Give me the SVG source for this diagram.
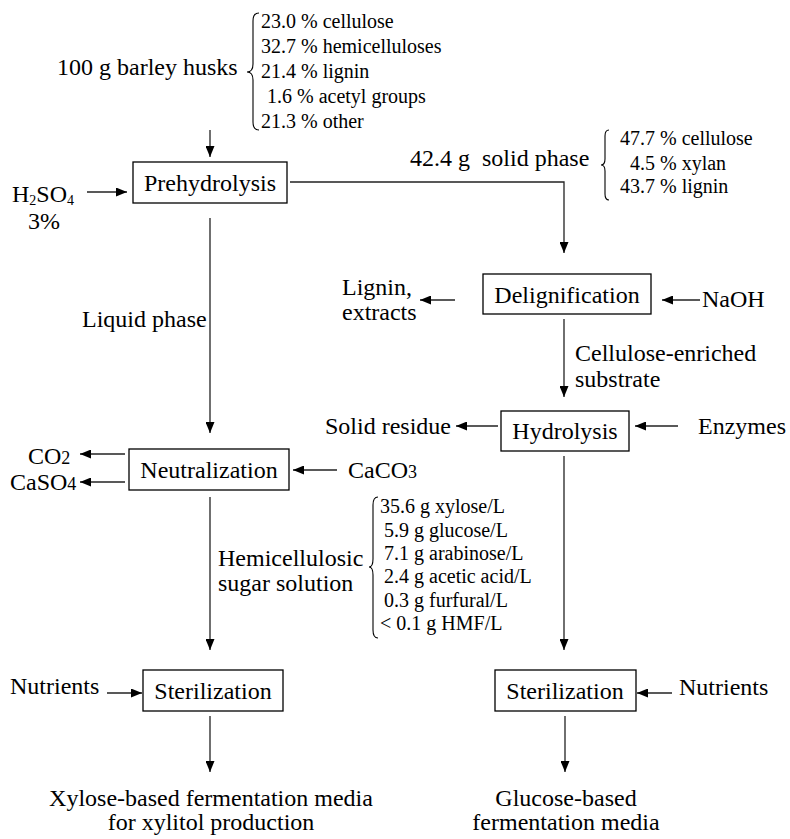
<svg xmlns="http://www.w3.org/2000/svg" width="790" height="839" viewBox="0 0 790 839">
<style>
text{font-family:"Liberation Serif","Times New Roman",serif;fill:#000}
.m{font-size:24px}
.s{font-size:20px}
.c{text-anchor:middle}
.box{fill:#fff;stroke:#000;stroke-width:1.3}
.ln{fill:none;stroke:#222;stroke-width:1.3}
.br{fill:none;stroke:#000;stroke-width:1.1}
</style>
<defs>
<marker id="ah" markerUnits="userSpaceOnUse" markerWidth="12" markerHeight="9" refX="11" refY="4.5" orient="auto">
<path d="M0,0 L11,4.5 L0,9 z" fill="#000"/>
</marker>
</defs>
<rect width="790" height="839" fill="#fff"/>
<g id="connectors" class="ln" marker-end="url(#ah)">
<path d="M210,130 V157"/>
<path d="M87,192 H127"/>
<path d="M290,182 H564 V253"/>
<path d="M210,218 V433"/>
<path d="M455,300 H420"/>
<path d="M700,300 H662"/>
<path d="M564,319 V397"/>
<path d="M498,426 H456"/>
<path d="M678,426 H635"/>
<path d="M564,456 V650"/>
<path d="M125,454 H80"/>
<path d="M125,482 H80"/>
<path d="M337,470 H293"/>
<path d="M210,497 V650"/>
<path d="M107,693 H142"/>
<path d="M672,693 H637"/>
<path d="M210,716 V772"/>
<path d="M565,716 V772"/>
</g>
<g id="barley">
<text class="m" x="57" y="75">100 g barley husks</text>
<path class="br" d="M259,13 Q253,13 253,21 L253,64 Q253,72 247,72 Q253,72 253,80 L253,122 Q253,130 259,130"/>
<text class="s" x="261" y="28">23.0 % cellulose</text>
<text class="s" x="261" y="53">32.7 % hemicelluloses</text>
<text class="s" x="261" y="78">21.4 % lignin</text>
<text class="s" x="267" y="103">1.6 % acetyl groups</text>
<text class="s" x="261" y="128">21.3 % other</text>
</g>
<g id="h2so4">
<text class="m" x="12" y="202">H<tspan font-size="14" dy="3">2</tspan><tspan dy="-3">SO</tspan><tspan font-size="14" dy="3">4</tspan></text>
<text class="m" x="28" y="229">3%</text>
</g>
<g id="prehydrolysis">
<rect class="box" x="133" y="162" width="154" height="41"/>
<text class="m c" x="210" y="191">Prehydrolysis</text>
</g>
<g id="solidphase">
<text class="m" x="410" y="166" xml:space="preserve">42.4 g  solid phase</text>
<path class="br" d="M609,130 Q605,130 605,136 L605,159 Q605,165 601,165 Q605,165 605,171 L605,194 Q605,200 609,200"/>
<text class="s" x="620" y="145">47.7 % cellulose</text>
<text class="s" x="630" y="170">4.5 % xylan</text>
<text class="s" x="620" y="193">43.7 % lignin</text>
</g>
<g id="delignification">
<rect class="box" x="483" y="274" width="168" height="40"/>
<text class="m c" x="567" y="303">Delignification</text>
</g>
<g id="lignin">
<text class="m" x="342" y="295">Lignin,</text>
<text class="m" x="342" y="320">extracts</text>
</g>
<g id="naoh"><text class="m" x="702" y="307">NaOH</text></g>
<g id="liquid"><text class="m" x="82" y="327">Liquid phase</text></g>
<g id="substrate">
<text class="m" x="575" y="361">Cellulose-enriched</text>
<text class="m" x="575" y="387">substrate</text>
</g>
<g id="hydrolysis">
<rect class="box" x="501" y="411" width="128" height="40"/>
<text class="m c" x="565" y="439">Hydrolysis</text>
</g>
<g id="solidresidue"><text class="m" x="325" y="434">Solid residue</text></g>
<g id="enzymes"><text class="m" x="698" y="434">Enzymes</text></g>
<g id="neutralization">
<rect class="box" x="129" y="449" width="160" height="41"/>
<text class="m c" x="209" y="478">Neutralization</text>
</g>
<g id="co2">
<text class="m" x="28" y="464">CO<tspan font-size="18">2</tspan></text>
<text class="m" x="10" y="490">CaSO<tspan font-size="18">4</tspan></text>
</g>
<g id="caco3"><text class="m" x="348" y="478">CaCO<tspan font-size="18">3</tspan></text></g>
<g id="hemi">
<text class="m" x="218" y="566">Hemicellulosic</text>
<text class="m" x="218" y="591">sugar solution</text>
</g>
<g id="composition">
<path class="br" d="M378,497 Q373,497 373,505 L373,559 Q373,567 369,567 Q373,567 373,575 L373,630 Q373,638 378,638"/>
<text class="s" x="380" y="513">35.6 g xylose/L</text>
<text class="s" x="384" y="537">5.9 g glucose/L</text>
<text class="s" x="384" y="560">7.1 g arabinose/L</text>
<text class="s" x="384" y="583">2.4 g acetic acid/L</text>
<text class="s" x="384" y="607">0.3 g furfural/L</text>
<text class="s" x="380" y="630">&lt; 0.1 g HMF/L</text>
</g>
<g id="sterilization1">
<rect class="box" x="143" y="670" width="140" height="41"/>
<text class="m c" x="213" y="699">Sterilization</text>
</g>
<g id="nutrients1"><text class="m" x="10" y="694">Nutrients</text></g>
<g id="sterilization2">
<rect class="box" x="495" y="670" width="141" height="41"/>
<text class="m c" x="565" y="699">Sterilization</text>
</g>
<g id="nutrients2"><text class="m" x="679" y="695">Nutrients</text></g>
<g id="xylosemedia">
<text class="m c" x="211" y="806">Xylose-based fermentation media</text>
<text class="m c" x="211" y="830">for xylitol production</text>
</g>
<g id="glucosemedia">
<text class="m c" x="566" y="806">Glucose-based</text>
<text class="m c" x="566" y="830">fermentation media</text>
</g>
</svg>
